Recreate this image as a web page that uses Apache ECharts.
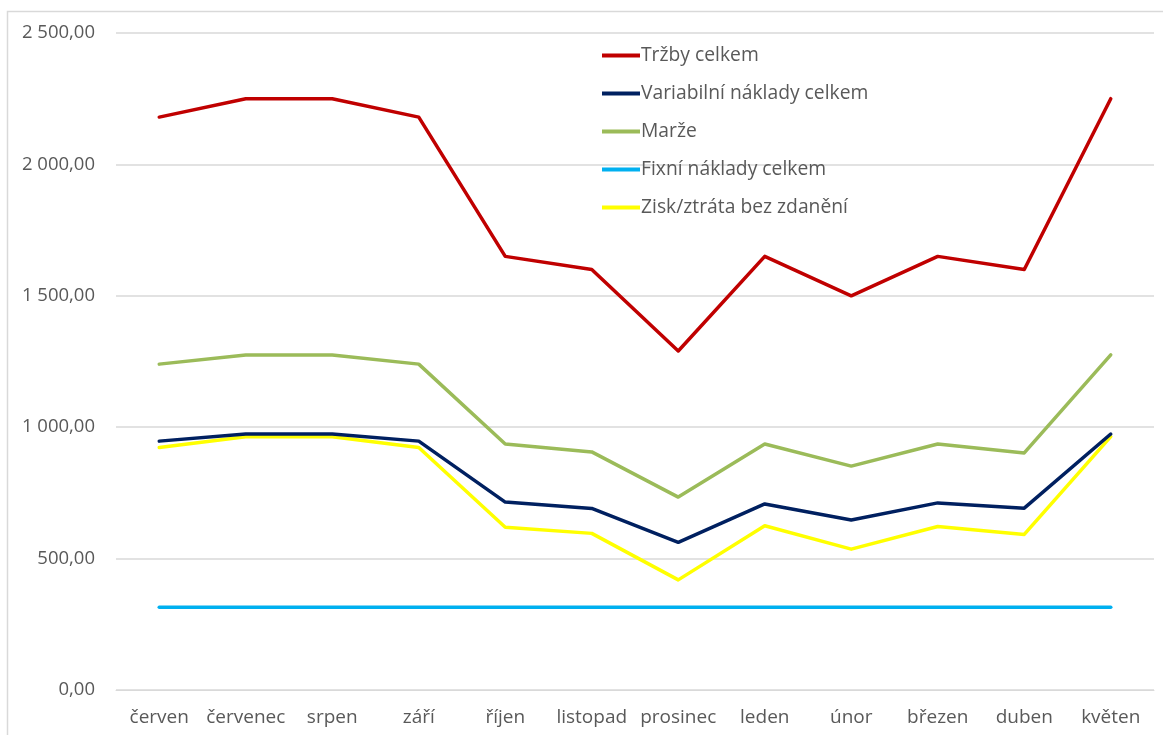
<!DOCTYPE html>
<html>
<head>
<meta charset="utf-8">
<script src="https://cdn.jsdelivr.net/npm/echarts@6/dist/echarts.min.js"></script>
<style>
  html, body { margin: 0; padding: 0; background: #fff; }
  #chart { width: 1163px; height: 735px; }
</style>
</head>
<body>
<div id="chart"></div>
<script>
// Months (June to May)
const months = ['červen', 'červenec', 'srpen', 'září', 'říjen', 'listopad', 'prosinec', 'leden', 'únor', 'březen', 'duben', 'květen'];

// Monthly values
const trzby = [2180, 2250, 2250, 2180, 1650, 1600, 1290, 1650, 1500, 1650, 1600, 2250];
const variabilni = [947, 974, 974, 947, 715, 691, 562, 708, 647, 712, 692, 974];
const marze = [1240, 1275, 1275, 1240, 936, 906, 734, 936, 852, 936, 902, 1275];
const fixni = [315, 315, 315, 315, 315, 315, 315, 315, 315, 315, 315, 315];
const zisk = [923, 964, 964, 923, 619, 596, 419, 625, 536, 622, 592, 964];

const seriesNames = ['Tržby celkem', 'Variabilní náklady celkem', 'Marže', 'Fixní náklady celkem', 'Zisk/ztráta bez zdanění'];
const seriesColors = ['#C00000', '#002060', '#9BBB59', '#00B0F0', '#FFFF00'];
const seriesData = [trzby, variabilni, marze, fixni, zisk];

const FONT = '"Open Sans", "Noto Sans", sans-serif';

function czNumber(v) {
  const parts = v.toFixed(2).split('.');
  const intPart = parts[0].replace(/\B(?=(\d{3})+(?!\d))/g, ' ');
  return intPart + ',' + parts[1];
}

const chart = echarts.init(document.getElementById('chart'), null, { renderer: 'canvas' });

chart.setOption({
  animation: false,
  backgroundColor: '#ffffff',
  graphic: [{
    type: 'rect',
    left: 5, top: 9,
    shape: { width: 1170, height: 740 },
    style: { fill: 'none', stroke: '#d9d9d9', lineWidth: 1.5 },
    silent: true, z: -1
  }],
  grid: { left: 116, right: 9, top: 33, bottom: 45 },
  legend: {
    orient: 'vertical',
    left: 597, top: 39,
    icon: 'rect',
    itemWidth: 38, itemHeight: 4,
    itemGap: 15,
    textStyle: { color: '#595959', fontSize: 19.3, fontFamily: FONT, lineHeight: 23, padding: [0, 0, 0, -4] },
    data: seriesNames
  },
  xAxis: {
    type: 'category',
    data: months,
    boundaryGap: true,
    axisLine: { show: true, lineStyle: { color: '#d9d9d9', width: 1 } },
    axisTick: { show: false },
    axisLabel: { color: '#595959', fontSize: 19, fontFamily: FONT, margin: 18, interval: 0 }
  },
  yAxis: {
    type: 'value',
    min: 0, max: 2500, interval: 500,
    axisLine: { show: false },
    axisTick: { show: false },
    axisLabel: { color: '#595959', fontSize: 18.5, fontFamily: FONT, margin: 21, formatter: czNumber },
    splitLine: { lineStyle: { color: '#d9d9d9', width: 1.5 } }
  },
  series: seriesNames.map((name, i) => ({
    name: name,
    type: 'line',
    data: seriesData[i],
    showSymbol: false,
    symbol: 'none',
    color: seriesColors[i],
    lineStyle: { width: 3.5, color: seriesColors[i], cap: 'round', join: 'round' },
    z: 5 - i
  }))
});
</script>
</body>
</html>
